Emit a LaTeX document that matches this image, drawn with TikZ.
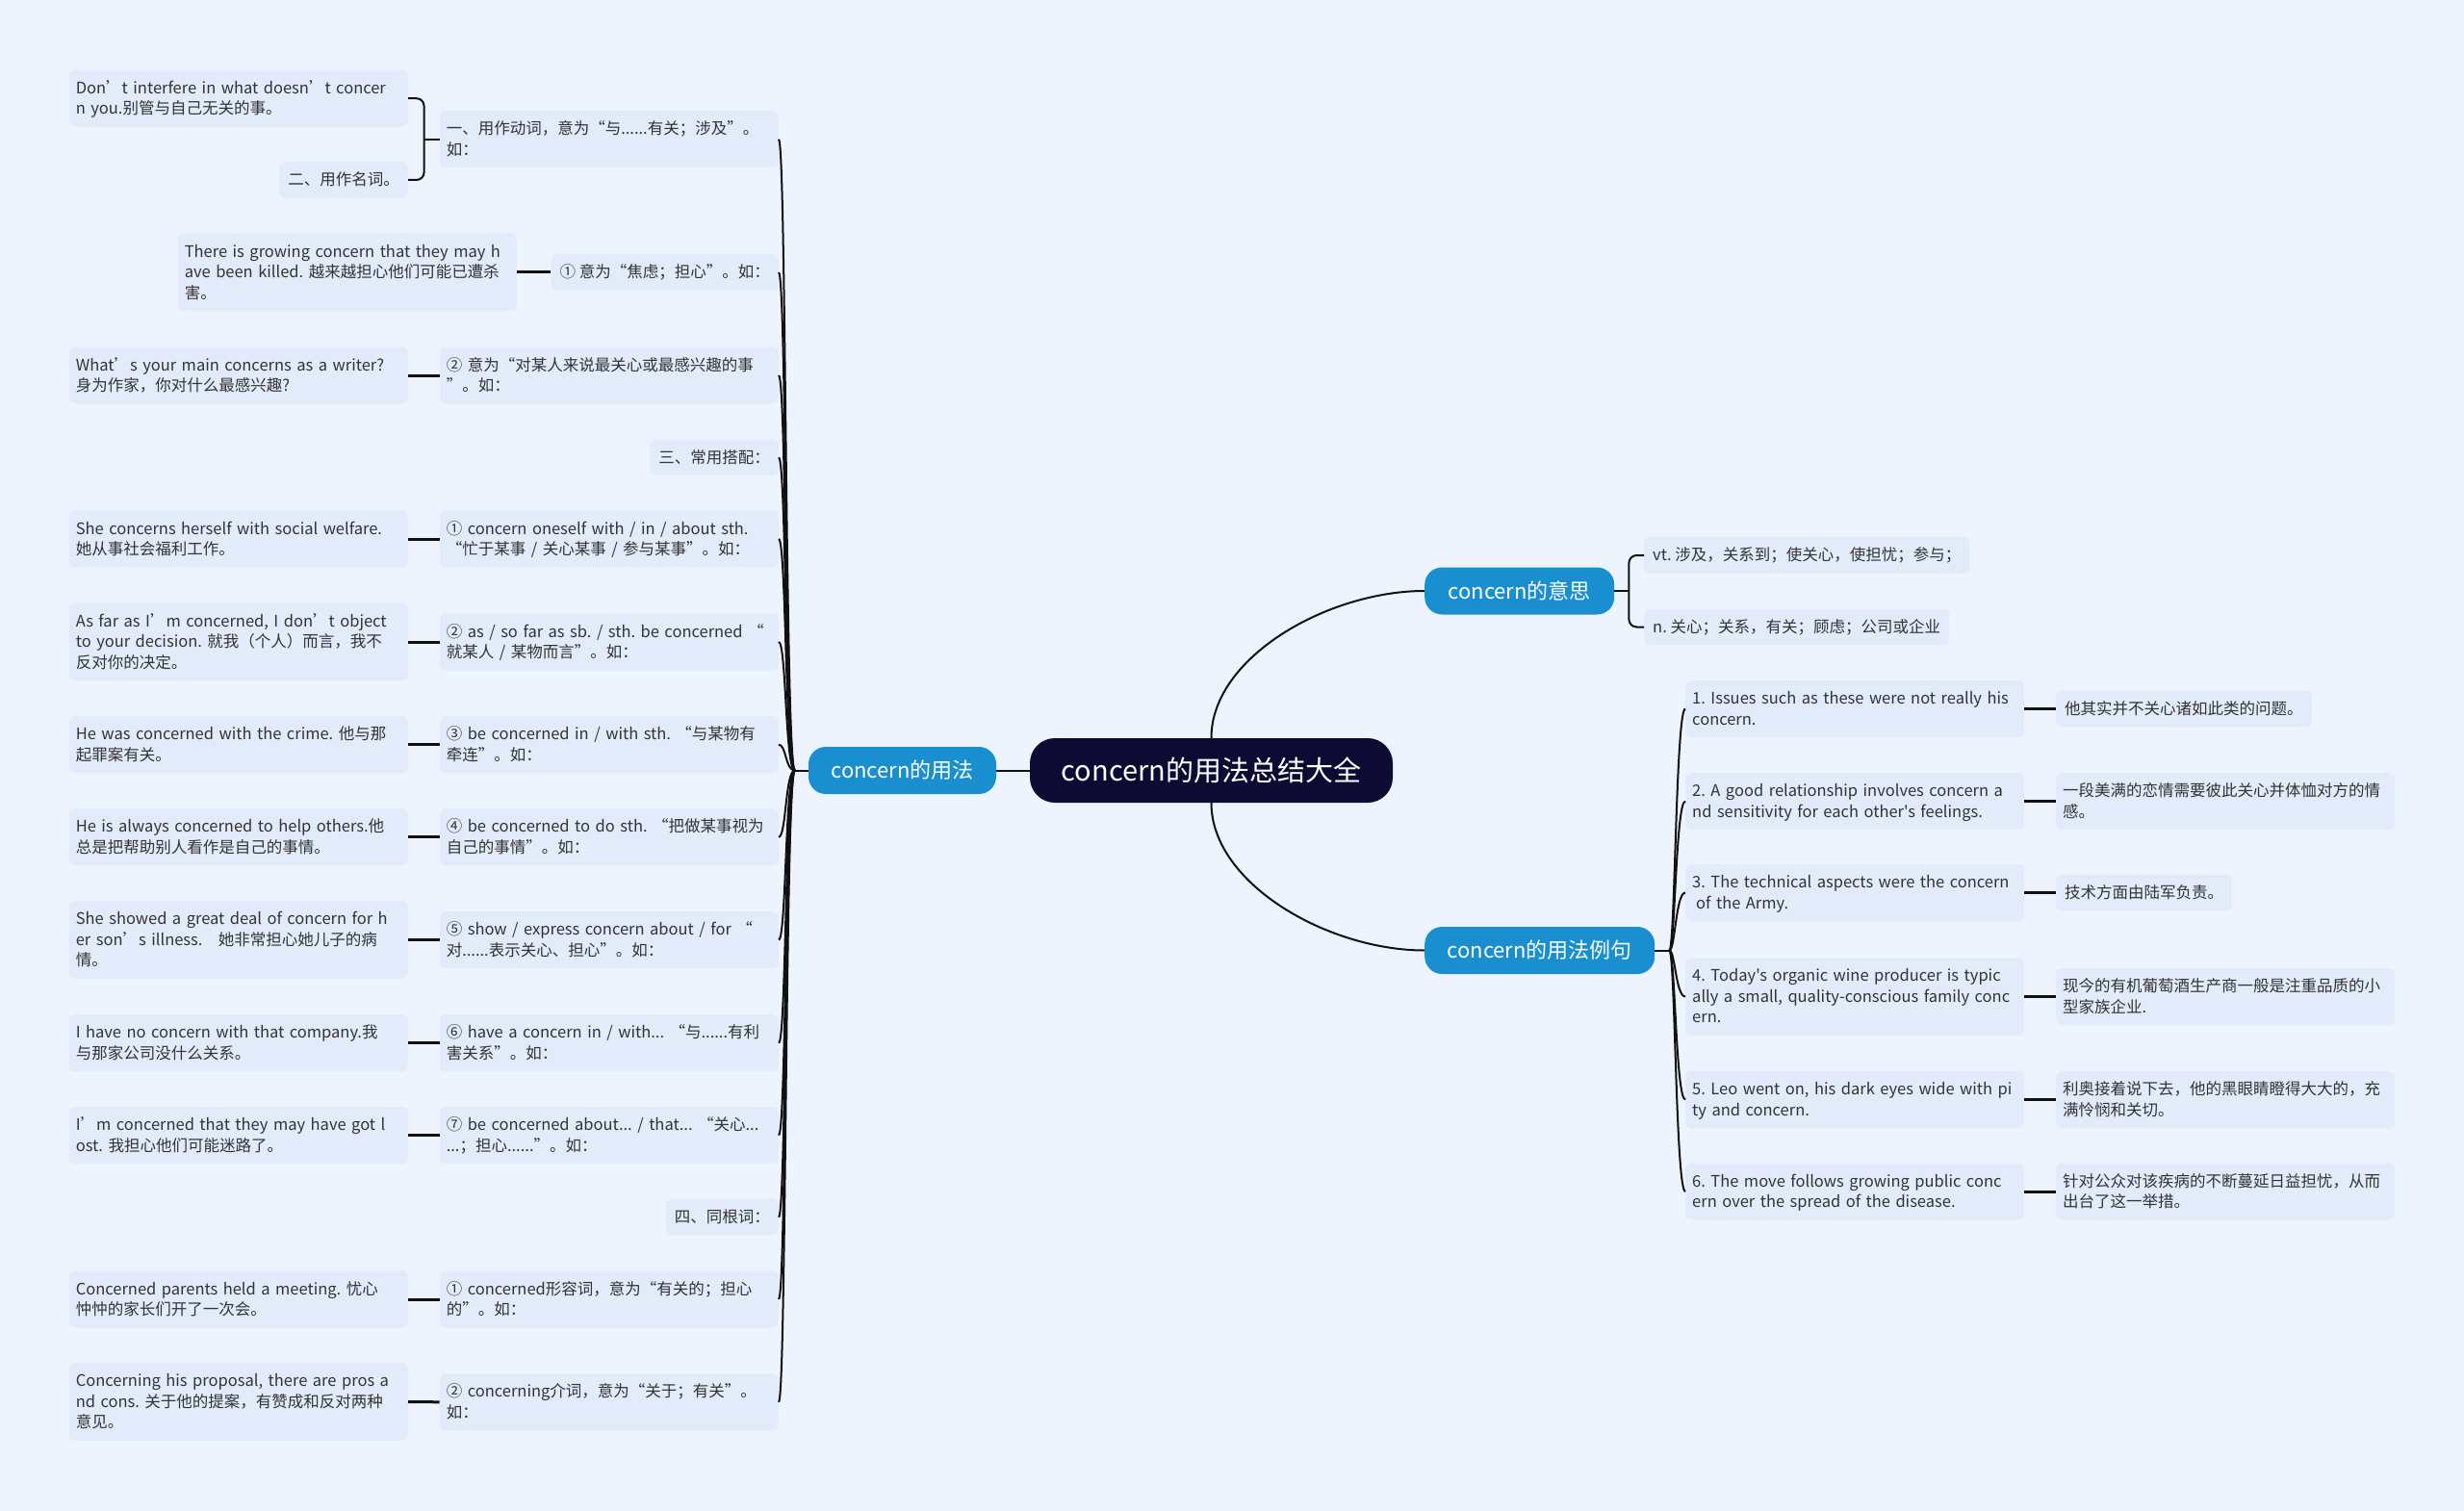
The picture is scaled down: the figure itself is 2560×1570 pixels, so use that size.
\documentclass[tikz,border=0pt]{standalone}
\usepackage{fontspec}
\newfontfamily\cjk{Noto Sans CJK SC}
\definecolor{bg}{HTML}{EEF4FE}
\definecolor{leaffill}{HTML}{E2EBFA}
\definecolor{topblue}{HTML}{1A8FD0}
\definecolor{rootnavy}{HTML}{0D0A33}
\definecolor{ink}{HTML}{333333}
\definecolor{wire}{HTML}{111111}
\frenchspacing
\newcommand\rowstrut{\rule[-5pt]{0pt}{21.5pt}}

\begin{document}
\begin{tikzpicture}[x=1pt,y=-1pt]

\tikzset{leaf/.style={fill=leaffill,rounded corners=6pt,text=ink,inner xsep=9pt,inner ysep=8pt,
    font=\cjk\fontsize{16.5}{21.5}\selectfont,align=left,
    execute at begin node=\rowstrut,execute at end node=\rowstrut}}
\tikzset{wrap/.style={leaf,text width=338pt,inner xsep=7pt}}
\tikzset{topic/.style={fill=topblue,text=white,rounded corners=18pt,minimum height=49pt,
    font=\cjk\fontsize{22}{26}\selectfont}}
\tikzset{root/.style={fill=rootnavy,text=white,rounded corners=26pt,minimum height=67pt,
    minimum width=377pt,font=\cjk\fontsize{29}{33}\selectfont}}
\tikzset{link/.style={draw=wire,line width=2pt}}
\tikzset{stub/.style={draw=wire,line width=3pt}}

\fill[bg] (0,0) rectangle (2560,1570);
\useasboundingbox (0,0) rectangle (2560,1570);

% centre and main topics
\node[root] (root) at (1258.5,800.5) {concern的用法总结大全};
\node[topic,minimum width=195pt] (use) at (937.5,800.5) {concern的用法};
\node[topic,minimum width=197pt,anchor=west] (mean) at (1480,614) {concern的意思};
\node[topic,minimum width=239pt,anchor=west] (ex) at (1480,987.5) {concern的用法例句};

% concern的用法
\node[wrap,anchor=east] (u1)  at (809,144.7)  {一、用作动词，意为“与......有关；涉及”。\\如：};
\node[leaf,anchor=east] (u2)  at (809,283)    {① 意为“焦虑；担心”。如：};
\node[wrap,anchor=east] (u3)  at (809,390)    {② 意为“对某人来说最关心或最感兴趣的事\\”。如：};
\node[leaf,anchor=east] (u4)  at (809,475.3)  {三、常用搭配：};
\node[wrap,anchor=east] (u5)  at (809,560)    {① concern oneself with / in / about sth.\\“忙于某事 / 关心某事 / 参与某事”。如：};
\node[wrap,anchor=east] (u6)  at (809,667)    {② as / so far as sb. / sth. be concerned “\\就某人 / 某物而言”。如：};
\node[wrap,anchor=east] (u7)  at (809,773.7)  {③ be concerned in / with sth. “与某物有\\牵连”。如：};
\node[wrap,anchor=east] (u8)  at (809,869.7)  {④ be concerned to do sth. “把做某事视为\\自己的事情”。如：};
\node[wrap,anchor=east] (u9)  at (809,976.5)  {⑤ show / express concern about / for “\\对......表示关心、担心”。如：};
\node[wrap,anchor=east] (u10) at (809,1083.7) {⑥ have a concern in / with... “与......有利\\害关系”。如：};
\node[wrap,anchor=east] (u11) at (809,1179.5) {⑦ be concerned about... / that... “关心...\\...；担心......”。如：};
\node[leaf,anchor=east] (u12) at (809,1264.7) {四、同根词：};
\node[wrap,anchor=east] (u13) at (809,1350)   {① concerned形容词，意为“有关的；担心\\的”。如：};
\node[wrap,anchor=east] (u14) at (809,1456.8) {② concerning介词，意为“关于；有关”。\\如：};

\node[wrap,anchor=east] (l1)  at (424,102.2)  {Don’t interfere in what doesn’t concer\\n you.别管与自己无关的事。};
\node[leaf,anchor=east] (l2)  at (424,187)    {二、用作名词。};
\node[wrap,anchor=east] (l3)  at (537,283)    {There is growing concern that they may h\\ave been killed. 越来越担心他们可能已遭杀\\害。};
\node[wrap,anchor=east] (l4)  at (424,390)    {What’s your main concerns as a writer?\\身为作家，你对什么最感兴趣?};
\node[wrap,anchor=east] (l5)  at (424,560)    {She concerns herself with social welfare.\\她从事社会福利工作。};
\node[wrap,anchor=east] (l6)  at (424,667)    {As far as I’m concerned, I don’t object\\to your decision. 就我（个人）而言，我不\\反对你的决定。};
\node[wrap,anchor=east] (l7)  at (424,773.7)  {He was concerned with the crime. 他与那\\起罪案有关。};
\node[wrap,anchor=east] (l8)  at (424,869.7)  {He is always concerned to help others.他\\总是把帮助别人看作是自己的事情。};
\node[wrap,anchor=east] (l9)  at (424,976.5)  {She showed a great deal of concern for h\\er son’s illness.\quad 她非常担心她儿子的病\\情。};
\node[wrap,anchor=east] (l10) at (424,1083.7) {I have no concern with that company.我\\与那家公司没什么关系。};
\node[wrap,anchor=east] (l11) at (424,1179.5) {I’m concerned that they may have got l\\ost. 我担心他们可能迷路了。};
\node[wrap,anchor=east] (l12) at (424,1350)   {Concerned parents held a meeting. 忧心\\忡忡的家长们开了一次会。};
\node[wrap,anchor=east] (l13) at (424,1456.5) {Concerning his proposal, there are pros a\\nd cons. 关于他的提案，有赞成和反对两种\\意见。};

% concern的意思
\node[leaf,anchor=west] (vt) at (1708,577)   {vt. 涉及，关系到；使关心，使担忧；参与；};
\node[leaf,anchor=west] (nn) at (1708,651.5) {n. 关心；关系，有关；顾虑；公司或企业};

% concern的用法例句
\node[wrap,anchor=west] (s1) at (1751,736.5)  {1. Issues such as these were not really his\\concern.};
\node[wrap,anchor=west] (s2) at (1751,832.5)  {2. A good relationship involves concern a\\nd sensitivity for each other's feelings.};
\node[wrap,anchor=west] (s3) at (1751,927.5)  {3. The technical aspects were the concern\\\hspace*{4pt}of the Army.};
\node[wrap,anchor=west] (s4) at (1751,1035.5) {4. Today's organic wine producer is typic\\ally a small, quality-conscious family conc\\ern.};
\node[wrap,anchor=west] (s5) at (1751,1142.5) {5. Leo went on, his dark eyes wide with pi\\ty and concern.};
\node[wrap,anchor=west] (s6) at (1751,1238)   {6. The move follows growing public conc\\ern over the spread of the disease.};

\node[leaf,anchor=west] (t1) at (2136,736.5)  {他其实并不关心诸如此类的问题。};
\node[wrap,anchor=west] (t2) at (2136,832.5)  {一段美满的恋情需要彼此关心并体恤对方的情\\感。};
\node[leaf,anchor=west] (t3) at (2136,927.5)  {技术方面由陆军负责。};
\node[wrap,anchor=west] (t4) at (2136,1035.5) {现今的有机葡萄酒生产商一般是注重品质的小\\型家族企业.};
\node[wrap,anchor=west] (t5) at (2136,1142.5) {利奥接着说下去，他的黑眼睛瞪得大大的，充\\满怜悯和关切。};
\node[wrap,anchor=west] (t6) at (2136,1238)   {针对公众对该疾病的不断蔓延日益担忧，从而\\出台了这一举措。};

% connectors
\draw[link] (root.west) -- (use.east);
\draw[link] (root.north) .. controls +(0,-84) and +(-100,0) .. (mean.west);
\draw[link] (root.south) .. controls +(0,84) and +(-100,0) .. (ex.west);

\draw[link] (use.west) -- ++(-14,0) coordinate (usej);
\foreach \n in {1,...,14}
  \draw[link] (usej) .. controls +(-10,0) and +(8,0) .. (u\n.east);

\draw[link] (ex.east) -- ++(15,0) coordinate (exj);
\foreach \n in {1,...,6}{
  \draw[link] (exj) .. controls +(6,0) and +(-10,0) .. (s\n.west);
  \draw[stub] (s\n.east) -- (t\n.west);
}

\draw[link] (u1.west) -- ++(-16,0) coordinate (u1j);
\draw[link,rounded corners=8pt] (u1j) |- (l1.east) (u1j) |- (l2.east);

\draw[link] (mean.east) -- ++(15,0) coordinate (meanj);
\draw[link,rounded corners=8pt] (meanj) |- (vt.west) (meanj) |- (nn.west);

\foreach \a/\b in {u2/l3,u3/l4,u5/l5,u6/l6,u7/l7,u8/l8,u9/l9,u10/l10,u11/l11,u13/l12,u14/l13}
  \draw[stub] (\a.west) -- (\b.east);

\end{tikzpicture}
\end{document}
